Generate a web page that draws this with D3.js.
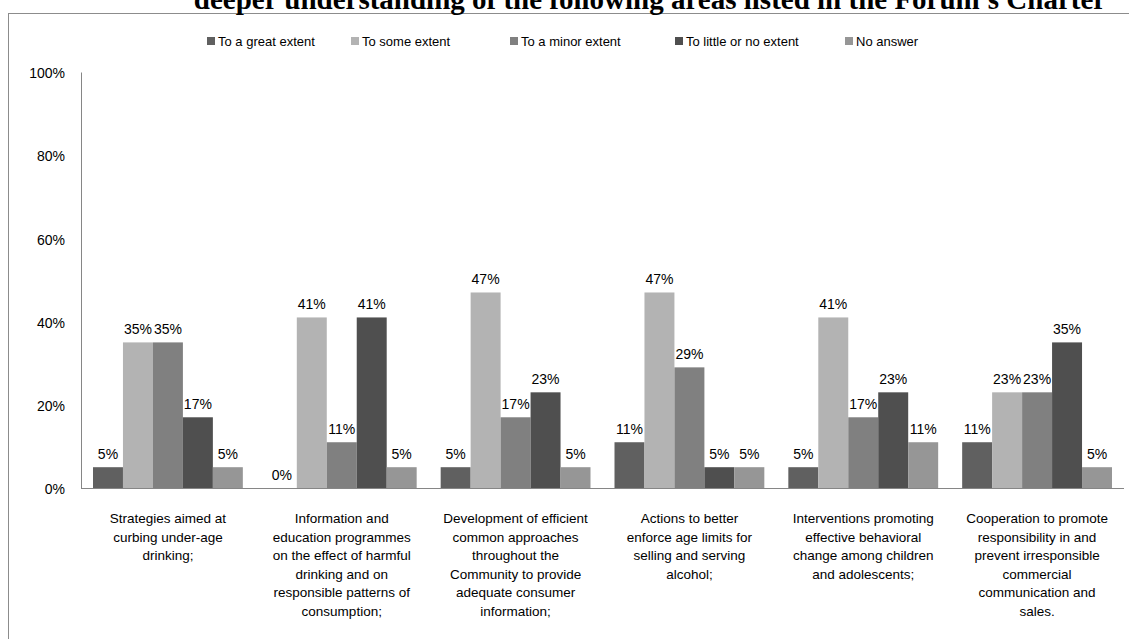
<!DOCTYPE html>
<html>
<head>
<meta charset="utf-8">
<script src="https://cdn.jsdelivr.net/npm/d3@7"></script>
<style>
  body { margin: 0; background: #fff; }
  svg text { font-family: "Liberation Sans Narrow", "Liberation Sans", sans-serif; fill: #000; }
  .title { font-family: "Liberation Serif", serif !important; font-weight: bold; }
</style>
</head>
<body>
<svg id="chart" width="1129" height="639"></svg>
<script>
// 데이터
var seriesNames = ["To a great extent", "To some extent", "To a minor extent", "To little or no extent", "No answer"];
var seriesColors = ["#606060", "#b3b3b3", "#808080", "#4f4f4f", "#969696"];
var categories = [
  ["Strategies aimed at", "curbing under-age", "drinking;"],
  ["Information and", "education programmes", "on the effect of harmful", "drinking and on", "responsible patterns of", "consumption;"],
  ["Development of efficient", "common approaches", "throughout the", "Community to provide", "adequate consumer", "information;"],
  ["Actions to better", "enforce age limits for", "selling and serving", "alcohol;"],
  ["Interventions promoting", "effective behavioral", "change among children", "and adolescents;"],
  ["Cooperation to promote", "responsibility in and", "prevent irresponsible", "commercial", "communication and", "sales."]
];
var greatExtent  = [5, 0, 5, 11, 5, 11];
var someExtent   = [35, 41, 47, 47, 41, 23];
var minorExtent  = [35, 11, 17, 29, 17, 23];
var littleExtent = [17, 41, 23, 5, 23, 35];
var noAnswer     = [5, 5, 5, 5, 11, 5];
var yTicks = [0, 20, 40, 60, 80, 100];

var values = [greatExtent, someExtent, minorExtent, littleExtent, noAnswer];

var svg = d3.select("#chart");
var plotLeft = 81, plotRight = 1124, plotTop = 72, plotBottom = 488;

// 테두리
svg.append("rect")
  .attr("x", 8.5).attr("y", 13.5)
  .attr("width", 1140).attr("height", 640)
  .attr("fill", "none").attr("stroke", "#8c8c8c").attr("stroke-width", 1);

// 제목 (위쪽이 잘림)
svg.append("text")
  .attr("class", "title")
  .attr("x", 650).attr("y", 9)
  .attr("text-anchor", "middle")
  .style("font-size", "29px")
  .text("deeper understanding of the following areas listed in the Forum's Charter");

var x0 = d3.scaleBand().domain(d3.range(categories.length)).range([plotLeft, plotRight]);
var x1 = d3.scaleBand().domain(d3.range(seriesNames.length)).range([12, x0.bandwidth() - 12]);
var y = d3.scaleLinear().domain([0, 100]).range([plotBottom, plotTop]);

// y축
var yAxis = d3.axisLeft(y).tickValues(yTicks).tickSize(0).tickPadding(16)
  .tickFormat(function(d){ return d + "%"; });
var gy = svg.append("g").attr("transform", "translate(" + plotLeft + ",0)").call(yAxis);
gy.select(".domain").attr("stroke", "#868686");
gy.selectAll("text").style("font-size", "14px").attr("dy", "0.4em");

// 막대
var groups = svg.selectAll("g.cat").data(categories).enter()
  .append("g").attr("class", "cat")
  .attr("transform", function(d, i){ return "translate(" + x0(i) + ",0)"; });

groups.each(function(c, ci){
  var g = d3.select(this);
  var rows = values.map(function(s, si){ return { s: si, v: s[ci] }; });
  g.selectAll("rect").data(rows).enter().append("rect")
    .attr("x", function(d){ return x1(d.s); })
    .attr("y", function(d){ return y(d.v); })
    .attr("width", x1.bandwidth())
    .attr("height", function(d){ return plotBottom - y(d.v); })
    .attr("fill", function(d){ return seriesColors[d.s]; });
  g.selectAll("text.lbl").data(rows).enter().append("text")
    .attr("class", "lbl")
    .attr("x", function(d){ return x1(d.s) + x1.bandwidth() / 2; })
    .attr("y", function(d){ return y(d.v) - 8; })
    .attr("text-anchor", "middle")
    .style("font-size", "14px")
    .text(function(d){ return d.v + "%"; });
});

// x축 기준선
svg.append("line")
  .attr("x1", plotLeft).attr("x2", plotRight)
  .attr("y1", plotBottom + 0.5).attr("y2", plotBottom + 0.5)
  .attr("stroke", "#868686");

// 카테고리 라벨
groups.each(function(c){
  var t = d3.select(this).append("text")
    .attr("text-anchor", "middle")
    .style("font-size", "13.5px");
  t.selectAll("tspan").data(c).enter().append("tspan")
    .attr("x", x0.bandwidth() / 2)
    .attr("y", function(d, i){ return 523 + i * 18.6; })
    .text(function(d){ return d; });
});

// 범례
var legendX = [207, 351, 510, 675, 845];
var legend = svg.selectAll("g.leg").data(seriesNames).enter()
  .append("g").attr("class", "leg")
  .attr("transform", function(d, i){ return "translate(" + legendX[i] + ",37)"; });
legend.append("rect").attr("width", 8).attr("height", 8)
  .attr("fill", function(d, i){ return seriesColors[i]; });
legend.append("text").attr("x", 11).attr("y", 8.5)
  .style("font-size", "13px")
  .text(function(d){ return d; });
</script>
</body>
</html>
